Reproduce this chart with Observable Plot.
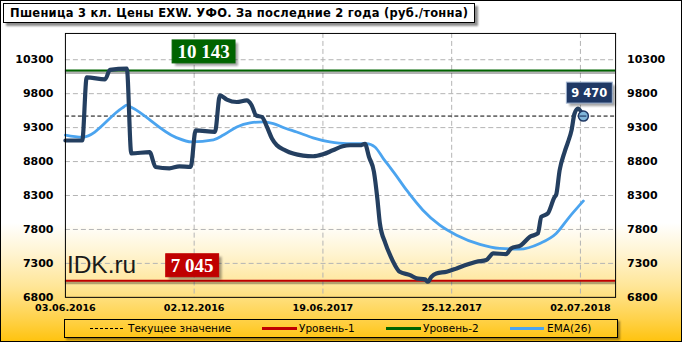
<!DOCTYPE html>
<html><head><meta charset="utf-8">
<script src="https://cdn.jsdelivr.net/npm/d3@7"></script>
<script src="https://cdn.jsdelivr.net/npm/@observablehq/plot@0.6"></script>
<style>
body{margin:0;background:#fff;}
#chart{position:relative;width:682px;height:342px;box-sizing:border-box;border:1px solid #000;overflow:hidden;
background:linear-gradient(to bottom,#ffffff 0px,#ffffff 222px,#fff4d2 252px,#ffe698 285px,#ffd24a 318px,#ffc20a 342px);
font-family:"DejaVu Sans",sans-serif;}
#plotwrap{position:absolute;left:-1px;top:-1px;}
#title{position:absolute;left:2px;top:2px;width:472px;height:20px;box-sizing:border-box;border:1px solid #000;background:#fff;
box-shadow:3px 3px 2px rgba(0,0,0,0.45);}
#title span{position:absolute;left:6px;top:1px;font:bold 11.5px "DejaVu Sans",sans-serif;line-height:17px;white-space:pre;color:#000;}
#legend{position:absolute;left:63px;top:318px;width:554px;height:19px;box-sizing:border-box;border:1px solid #000;
box-shadow:2px 2px 2px rgba(0,0,0,0.4);}
.lg{position:absolute;font:10.5px "DejaVu Sans",sans-serif;color:#000;top:2px;line-height:13px;white-space:nowrap;}
.sw{position:absolute;top:8px;height:0;}
</style></head>
<body>
<div id="chart">
  <div id="plotwrap"></div>
  <div id="title"><span id="ttext">Пшеница 3 кл. Цены EXW. УФО. За последние 2 года (руб./тонна)</span></div>
  <div id="legend"></div>
</div>
<script>
// ---- data ----
const tickPos = [0, 26, 52, 78, 104];
const tickLabels = ["03.06.2016", "02.12.2016", "19.06.2017", "25.12.2017", "02.07.2018"];
const yTicks = [6800, 7300, 7800, 8300, 8800, 9300, 9800, 10300];
const level1 = 7045;
const level2 = 10143;
const current = 9470;

const priceWeek = [0, 3.4, 4.3, 8, 9, 12.4, 13.3, 17, 18.2, 21, 23, 25.3, 26.3, 30.2, 31.2, 32.6, 34.6, 36.6, 37.6, 38.5,
  39.7, 40.7, 41.7, 42.7, 44.4, 46, 48, 50, 52, 54, 56, 57.5, 59.5, 60.5, 61.3, 62.3, 63.0, 63.5, 64.6, 65.7, 66.5, 67.5,
  69.6, 70.9, 72.6, 73.2, 73.9, 74.9, 77, 79, 81, 83, 85, 86.4, 89, 90, 92, 93.8, 95.4, 96.1, 97.4, 98.8, 99.1, 99.8,
  100.8, 101.5, 102.2, 102.8, 103.5, 104.6];
const priceValue = [9110, 9110, 10040, 10010, 10150, 10170, 8920, 8940, 8720, 8700, 8730, 8720, 9260, 9236, 9775, 9712, 9677, 9700, 9630, 9480,
  9456, 9310, 9140, 9040, 8966, 8918, 8888, 8878, 8907, 8966, 9025, 9040, 9040, 9060, 8870, 8650, 8250, 7890, 7600, 7400, 7280, 7177,
  7128, 7080, 7065, 7030, 7103, 7153, 7177, 7226, 7280, 7324, 7349, 7447, 7437, 7520, 7569, 7692, 7741, 7986, 8035, 8280, 8310, 8672,
  8940, 9090, 9260, 9505, 9580, 9470];

const emaWeek = [0, 3.4, 11.5, 12.4, 13.3, 22.2, 25.5, 29.9, 31.9, 34.6, 37.3, 40, 42, 44.4, 46.7, 50, 53.4, 56.8, 60.8, 62.5,
  64.2, 65.5, 66.5, 68.9, 72.2, 75.6, 79, 83.7, 87.7, 91.7, 95.8, 99.1, 101.8, 104.6];
const emaValue = [9190, 9160, 9590, 9630, 9600, 9160, 9090, 9120, 9190, 9310, 9370, 9385, 9360, 9290, 9236, 9150, 9090, 9065, 9065, 9015,
  8844, 8720, 8623, 8378, 8084, 7863, 7716, 7580, 7520, 7510, 7594, 7741, 7986, 8220];

const price = priceWeek.map((w, i) => ({w, v: priceValue[i]}));
const ema = emaWeek.map((w, i) => ({w, v: emaValue[i]}));
const last = price[price.length - 1];

// ---- chart ----
const navy = "#243f60";
const plot = Plot.plot({
  width: 682, height: 342,
  marginLeft: 65, marginRight: 66, marginTop: 33, marginBottom: 44.7,
  style: {background: "transparent", fontFamily: "DejaVu Sans", fontSize: "11px", overflow: "visible"},
  x: {domain: [0, 111.1]},
  y: {domain: [6800, 10687]},
  marks: [
    Plot.gridY(yTicks.filter(v => v > 6800), {stroke: "#b4b4b4", strokeOpacity: 1, strokeDasharray: "5,3"}),
    Plot.gridX(tickPos.filter(d => d > 0), {stroke: "#b4b4b4", strokeOpacity: 1, strokeDasharray: "5,3"}),
    Plot.axisY(yTicks, {anchor: "left", tickSize: 0, tickPadding: 12, fontWeight: "bold", fontSize: 11, tickFormat: d3.format("d"), label: null}),
    Plot.axisY(yTicks, {anchor: "right", tickSize: 0, tickPadding: 11.5, fontWeight: "bold", fontSize: 11, tickFormat: d3.format("d"), label: null}),
    Plot.axisX(tickPos, {anchor: "bottom", tickSize: 0, tickPadding: 7, fontWeight: "bold", fontSize: 9.6,
      tickFormat: d => tickLabels[tickPos.indexOf(d)], label: null}),
    // level shadows
    Plot.ruleY([level1, level2], {dy: 2, stroke: "#000", strokeOpacity: 0.3, strokeWidth: 3, ariaLabel: "shadow"}),
    Plot.ruleY([level2], {stroke: "#006400", strokeWidth: 2}),
    Plot.ruleY([level1], {stroke: "#c00000", strokeWidth: 2}),
    Plot.ruleY([current], {stroke: "#000", strokeWidth: 1, strokeDasharray: "4,2.5"}),
    // price shadow
    Plot.line(price, {x: "w", y: "v", curve: "monotone-x", stroke: "#000", strokeOpacity: 0.3, strokeWidth: 4.5, dx: 2, dy: 2.5, ariaLabel: "shadow"}),
    Plot.line(ema, {x: "w", y: "v", curve: "monotone-x", stroke: "#4ba4ef", strokeWidth: 2.8}),
    Plot.line(price, {x: "w", y: "v", curve: "monotone-x", stroke: navy, strokeWidth: 4.2}),
    Plot.dot([last], {x: "w", y: "v", r: 5, fill: "#7fb6da", stroke: "#1f3864", strokeWidth: 1.5}),
    Plot.ruleY([current], {x1: last.w - 0.7, x2: last.w + 0.7, stroke: "#1f3864", strokeWidth: 1.2}),
    Plot.frame({stroke: "#000", strokeWidth: 1})
  ]
});
document.getElementById("plotwrap").appendChild(plot);

const svg = d3.select(plot);
const defs = svg.insert("defs", ":first-child");
defs.append("filter").attr("id", "blur").attr("x", "-10%").attr("y", "-10%").attr("width", "120%").attr("height", "120%")
  .append("feGaussianBlur").attr("stdDeviation", 1.3);
svg.selectAll('[aria-label="shadow"]').attr("filter", "url(#blur)");

const xs = plot.scale("x"), ys = plot.scale("y");
const X = v => xs.apply(v), Y = v => ys.apply(v);

function box(cx, cy, w, h, fill, stroke, label, font, size) {
  const g = svg.append("g");
  g.append("rect").attr("x", cx - w / 2 + 3).attr("y", cy - h / 2 + 3).attr("width", w).attr("height", h)
    .attr("fill", "#000").attr("opacity", 0.35).attr("filter", "url(#blur)");
  g.append("rect").attr("x", cx - w / 2).attr("y", cy - h / 2).attr("width", w).attr("height", h)
    .attr("fill", fill).attr("stroke", stroke).attr("stroke-width", 1);
  g.append("text").attr("x", cx).attr("y", cy).attr("text-anchor", "middle").attr("dominant-baseline", "central")
    .attr("fill", "#fff").attr("font-family", font).attr("font-weight", "bold").attr("font-size", size)
    .text(label);
}
const fmt = v => d3.format(",")(v).replace(",", " ");
box(X(28), Y(level2) - 18.5, 63, 23, "#006400", "#006400", fmt(level2), "Liberation Serif", 19);
box(X(25.7), Y(level1) - 15, 53, 23, "#c00000", "#c00000", fmt(level1), "Liberation Serif", 19);
box(X(105.9), Y(current) - 23, 46, 21, "#1f3864", "#9fb3cf", fmt(current), "DejaVu Sans", 11.5);

svg.append("text").attr("x", X(0) + 2).attr("y", Y(7300) + 10.5).attr("text-anchor", "start")
  .attr("font-family", "Liberation Sans").attr("font-size", 24.5).attr("fill", "#1a1a1a").text("IDK.ru");

// ---- legend ----
const legend = document.getElementById("legend");
const items = [
  {x1: 89, x2: 122, color: "#000", dash: true, tx: 127, text: "Текущее значение"},
  {x1: 261, x2: 296, color: "#c00000", tx: 298, text: "Уровень-1"},
  {x1: 385, x2: 420, color: "#006400", tx: 422, text: "Уровень-2"},
  {x1: 509, x2: 543, color: "#4ba4ef", tx: 546, text: "EMA(26)"}
];
items.forEach(it => {
  const s = document.createElement("div");
  s.className = "sw";
  s.style.left = (it.x1 - 64) + "px";
  s.style.width = (it.x2 - it.x1) + "px";
  s.style.borderTop = it.dash ? "1px dashed #000" : "3px solid " + it.color;
  if (!it.dash) s.style.top = "7px";
  legend.appendChild(s);
  const t = document.createElement("div");
  t.className = "lg";
  t.style.left = (it.tx - 64) + "px";
  t.textContent = it.text;
  legend.appendChild(t);
});

// fit title width
const tt = document.getElementById("ttext");
const w = tt.getBoundingClientRect().width;
const n = tt.textContent.length;
tt.style.letterSpacing = ((458 - w) / (n - 1)) + "px";
</script>
</body></html>
